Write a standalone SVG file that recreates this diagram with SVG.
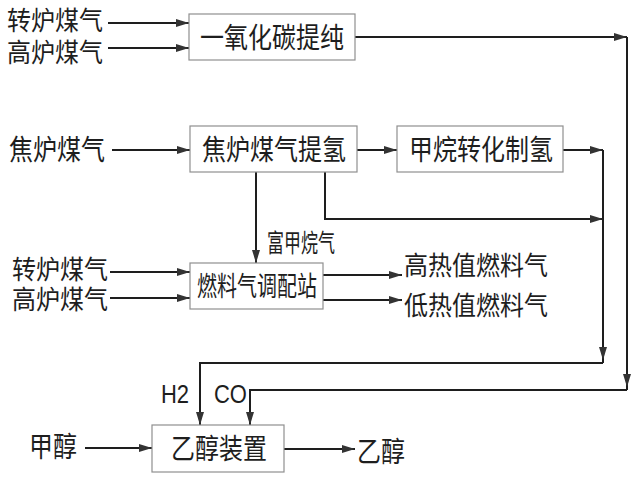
<svg xmlns="http://www.w3.org/2000/svg" width="640" height="479" viewBox="0 0 640 479">
<style>
.bg{fill:#ffffff}
.box{fill:#ffffff;stroke:#8f8f8f;stroke-width:1.2}
.t{font-family:"Liberation Sans","Noto Sans CJK SC",sans-serif;fill:#1e1e1e;dominant-baseline:central}
.m{text-anchor:middle}
.s{text-anchor:start}
.l{font-family:"Liberation Sans","Noto Sans CJK SC",sans-serif;fill:#1e1e1e;dominant-baseline:central}
.c{fill:none;stroke:#1e1e1e;stroke-width:2;marker-end:url(#a)}
.n{fill:none;stroke:#1e1e1e;stroke-width:2}
</style>
<defs>
<marker id="a" markerUnits="userSpaceOnUse" markerWidth="14" markerHeight="10" refX="13" refY="5" orient="auto">
<path d="M0,1 L13,5 L0,9 z" fill="#333333"/>
</marker>
</defs>
<rect class="bg" x="0" y="0" width="640" height="479"/>

<g id="connectors">
<path class="c" d="M108,23 H189"/>
<path class="c" d="M108,48 H189"/>
<path class="c" d="M355,37 H627"/>
<path class="c" d="M627,37 V387"/>
<path class="n" d="M627,386 V390"/>
<path class="c" d="M627,390 H250 V425"/>
<path class="c" d="M112,150 H190"/>
<path class="c" d="M357,150 H397"/>
<path class="c" d="M563,150 H603"/>
<path class="c" d="M603,150 V360"/>
<path class="n" d="M603,359 V363"/>
<path class="c" d="M603,363 H200 V425"/>
<path class="c" d="M325,172 V219 H603"/>
<path class="c" d="M256,172 V263"/>
<path class="c" d="M110,272 H190"/>
<path class="c" d="M110,298 H190"/>
<path class="c" d="M323,275 H402"/>
<path class="c" d="M323,300 H402"/>
<path class="c" d="M85,448 H152"/>
<path class="c" d="M284,449 H355"/>
</g>

<g id="src-zhuanlu-1"><text class="t s" font-size="24" transform="translate(7,21) scale(1,1.1)">转炉煤气</text></g>
<g id="src-gaolu-1"><text class="t s" font-size="24" transform="translate(7,53) scale(1,1.1)">高炉煤气</text></g>

<g id="node-co">
<rect class="box" x="189" y="14" width="166" height="46"/>
<text class="t m" font-size="24" transform="translate(272,38) scale(1,1.2)">一氧化碳提纯</text>
</g>

<g id="src-jiaolu"><text class="t s" font-size="24" transform="translate(9,150) scale(1,1.2)">焦炉煤气</text></g>

<g id="node-h2">
<rect class="box" x="190" y="126" width="167" height="46"/>
<text class="t m" font-size="24" transform="translate(274,150) scale(1,1.2)">焦炉煤气提氢</text>
</g>

<g id="node-ch4">
<rect class="box" x="397" y="126" width="166" height="46"/>
<text class="t m" font-size="24" transform="translate(481,150) scale(1,1.2)">甲烷转化制氢</text>
</g>

<g id="label-fujiawan"><text class="t s" font-size="17" transform="translate(267,243) scale(1,1.5)">富甲烷气</text></g>

<g id="src-zhuanlu-2"><text class="t s" font-size="24" transform="translate(12,270) scale(1,1.1)">转炉煤气</text></g>
<g id="src-gaolu-2"><text class="t s" font-size="24" transform="translate(12,300) scale(1,1.1)">高炉煤气</text></g>

<g id="node-fuel">
<rect class="box" x="190" y="263" width="133" height="46"/>
<text class="t m" font-size="20" transform="translate(257,286) scale(1,1.35)">燃料气调配站</text>
</g>

<g id="out-high"><text class="t s" font-size="24" transform="translate(404,266) scale(1,1.1)">高热值燃料气</text></g>
<g id="out-low"><text class="t s" font-size="24" transform="translate(404,306) scale(1,1.1)">低热值燃料气</text></g>

<g id="label-h2"><text class="l s" font-size="22" transform="translate(161,394) scale(1,1.15)">H2</text></g>
<g id="label-co"><text class="l s" font-size="22" transform="translate(214,394) scale(1,1.15)">CO</text></g>

<g id="src-methanol"><text class="t s" font-size="24" transform="translate(29,447) scale(1,1.2)">甲醇</text></g>

<g id="node-ethanol">
<rect class="box" x="152" y="425" width="132" height="47"/>
<text class="t m" font-size="24" transform="translate(219,449) scale(1,1.2)">乙醇装置</text>
</g>

<g id="out-ethanol"><text class="t s" font-size="24" transform="translate(357,452) scale(1,1.2)">乙醇</text></g>
</svg>
